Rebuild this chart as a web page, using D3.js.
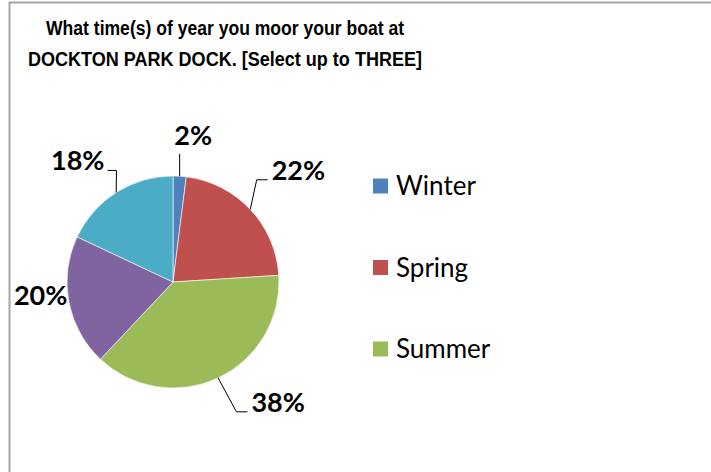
<!DOCTYPE html>
<html>
<head>
<meta charset="utf-8">
<script src="https://cdn.jsdelivr.net/npm/d3@7"></script>
<style>
  body { margin: 0; background: #fff; }
</style>
</head>
<body>
<svg id="chart" width="711" height="472"></svg>
<script>
var titleLines = ['What time(s) of year you moor your boat at', 'DOCKTON PARK DOCK. [Select up to THREE]'];
var seasons = ['Winter', 'Spring', 'Summer', 'Fall', 'Year-round'];
var shares = [2, 22, 38, 20, 18];
var colors = ['#4F81BD', '#C0504D', '#9BBB59', '#8064A2', '#4BACC6'];
var legendShown = 3; // original legend is clipped after Summer

(function(){
  var svg = d3.select('#chart')

  // frame, runs off right/bottom like the original
  svg.append('rect')
    .attr('x', 9.5).attr('y', 2.5)
    .attr('width', 800).attr('height', 600)
    .attr('fill', '#fff')
    .attr('stroke', '#a6a6a6').attr('stroke-width', 2)

  // title is a slightly condensed arial bold
  var titleWidths = [358, 394]
  svg.append('g').selectAll('text')
    .data(titleLines).enter()
    .append('text')
    .attr('x', 225)
    .attr('y', (d, i) => 35 + i * 30.5)
    .attr('text-anchor', 'middle')
    .attr('textLength', (d, i) => titleWidths[i])
    .attr('lengthAdjust', 'spacingAndGlyphs')
    .style('font-family', '"Liberation Sans", Arial, sans-serif')
    .style('font-weight', 'bold')
    .style('font-size', '20px')
    .text(d => d)

  var cx = 173, cy = 282, r = 106
  var data = seasons.map((s, i) => ({ name: s, value: shares[i], color: colors[i] }))

  var pie = d3.pie().sort(null).value(d => d.value)
  var arcs = pie(data)
  var arc = d3.arc().innerRadius(0).outerRadius(r)

  var g = svg.append('g').attr('transform', 'translate(' + cx + ',' + cy + ')')

  g.selectAll('path')
    .data(arcs).enter()
    .append('path')
    .attr('d', arc)
    .attr('fill', d => d.data.color)
    .attr('stroke', '#fff')
    .attr('stroke-width', 0.6)

  // label placement: polar point at r+40 then nudged like excel's layout
  var nudges = [[11, -1], [19, -12], [43, -12], [11, -14], [-17, 2]]
  var fs = 27, capH = fs * 0.72
  var polar = (a, rad) => [rad * Math.sin(a), -rad * Math.cos(a)]

  arcs.forEach(function(d, i) {
    var mid = (d.startAngle + d.endAngle) / 2
    var base = polar(mid, r + 40)
    var lx = base[0] + nudges[i][0], ly = base[1] + nudges[i][1]

    var t = g.append('text')
      .attr('x', lx).attr('y', ly + capH / 2)
      .attr('text-anchor', 'middle')
      .style('font-family', 'Lato, "Open Sans", sans-serif')
      .style('font-weight', 'bold')
      .style('font-size', fs + 'px')
      .text(d.data.value + '%')

    var w = t.node().getComputedTextLength()
    var left = lx - w / 2, right = lx + w / 2, bottom = ly + capH / 2
    var edge = polar(mid, r)

    // leader line, skipped when the label already touches the slice
    var pts
    if (edge[0] > left && edge[0] < right) {
      pts = [edge, [edge[0], bottom + 9]]
    } else if (left > edge[0]) {
      if (left - edge[0] < 6) return
      pts = [edge, [left - 15, bottom], [left - 4, bottom]]
    } else {
      if (edge[0] - right < 8) return
      pts = [edge, [right + 12, bottom], [right + 3, bottom]]
    }
    g.append('path')
      .attr('d', d3.line()(pts))
      .attr('fill', 'none')
      .attr('stroke', '#000')
      .attr('stroke-width', 1)
  })

  var legend = svg.append('g').selectAll('g')
    .data(data.slice(0, legendShown)).enter()
    .append('g')
    .attr('transform', (d, i) => 'translate(373,' + (186 + i * 81.5) + ')')

  legend.append('rect')
    .attr('x', 0).attr('y', -7.5)
    .attr('width', 15).attr('height', 15)
    .attr('fill', d => d.color)

  legend.append('text')
    .attr('x', 23).attr('y', 9)
    .style('font-family', 'Lato, "Open Sans", sans-serif')
    .style('font-size', '26px')
    .text(d => d.name)
})()
</script>
</body>
</html>
